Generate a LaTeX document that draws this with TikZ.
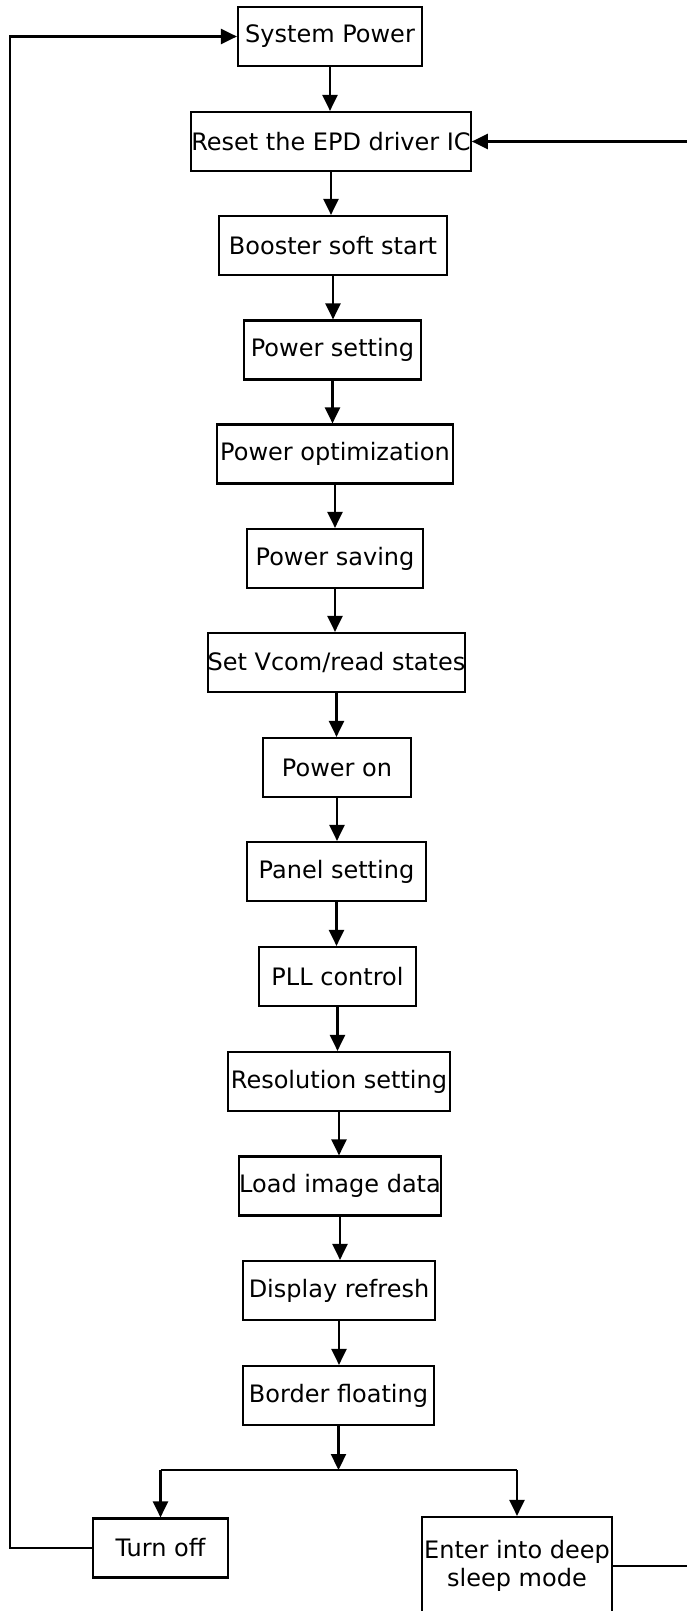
\documentclass[tikz,border=0pt]{standalone}
\usepackage{fontspec}
\setmainfont{DejaVu Sans}
\usetikzlibrary{arrows.meta}

\begin{document}
\begin{tikzpicture}[x=0.5pt, y=-0.5pt, line width=1.1pt, every node/.style={font=\fontsize{12}{14}\selectfont},
        box/.style={draw, inner sep=0pt, minimum height=29.5pt, align=center},
        arr/.style={-{Triangle[length=8pt, width=7.5pt]}}]
        \useasboundingbox (0,0) rectangle (686,1611);
        \node[box, minimum width=92pt] (sys) at (330,36.5) {System Power};
        \node[box, minimum width=138pt] (reset) at (331,141.5) {Reset the EPD driver IC};
        \node[box, minimum width=114pt] (boost) at (333,245.5) {Booster soft start};
        \node[box, minimum width=88.5pt] (pset) at (332.5,350) {Power setting};
        \node[box, minimum width=118pt] (popt) at (335,454) {Power optimization};
        \node[box, minimum width=88pt] (psave) at (335,558.5) {Power saving};
        \node[box, minimum width=127.5pt] (vcom) at (336.5,662.5) {Set Vcom/read states};
        \node[box, minimum width=74pt] (pon) at (337,767.5) {Power on};
        \node[box, minimum width=89.5pt] (panel) at (336.5,871.5) {Panel setting};
        \node[box, minimum width=78.5pt] (pll) at (337.5,976.5) {PLL control};
        \node[box, minimum width=111pt] (res) at (339,1081.5) {Resolution setting};
        \node[box, minimum width=101pt] (load) at (340,1186) {Load image data};
        \node[box, minimum width=96pt] (disp) at (339,1290.5) {Display refresh};
        \node[box, minimum width=95.5pt] (border) at (338.5,1395.5) {Border floating};
        \node[box, minimum width=67.5pt] (off) at (160.5,1548) {Turn off};
        \node[box, minimum width=95pt, minimum height=49pt] (sleep) at (517,1566) {Enter into deep\\sleep mode};
        \draw[arr] (sys.south) -- (sys.south |- reset.north);
        \draw[arr] (reset.south) -- (reset.south |- boost.north);
        \draw[arr] (boost.south) -- (boost.south |- pset.north);
        \draw[arr] (pset.south) -- (pset.south |- popt.north);
        \draw[arr] (popt.south) -- (popt.south |- psave.north);
        \draw[arr] (psave.south) -- (psave.south |- vcom.north);
        \draw[arr] (vcom.south) -- (vcom.south |- pon.north);
        \draw[arr] (pon.south) -- (pon.south |- panel.north);
        \draw[arr] (panel.south) -- (panel.south |- pll.north);
        \draw[arr] (pll.south) -- (pll.south |- res.north);
        \draw[arr] (res.south) -- (res.south |- load.north);
        \draw[arr] (load.south) -- (load.south |- disp.north);
        \draw[arr] (disp.south) -- (disp.south |- border.north);
        \coordinate (split) at (340,1470);
        \draw[arr] (border.south) -- (border.south |- split);
        \draw (off.north |- split) -- (sleep.north |- split);
        \draw[arr] (off.north |- split) -- (off.north);
        \draw[arr] (sleep.north |- split) -- (sleep.north);
        \coordinate (lft) at (10,1548);
        \draw[arr] (off.west) -- (lft) -- (lft |- sys.west) -- (sys.west);
        \coordinate (rgt) at (700,1566);
        \draw[arr] (sleep.east) -- (rgt) -- (rgt |- reset.east) -- (reset.east);
    \end{tikzpicture}
\end{document}
